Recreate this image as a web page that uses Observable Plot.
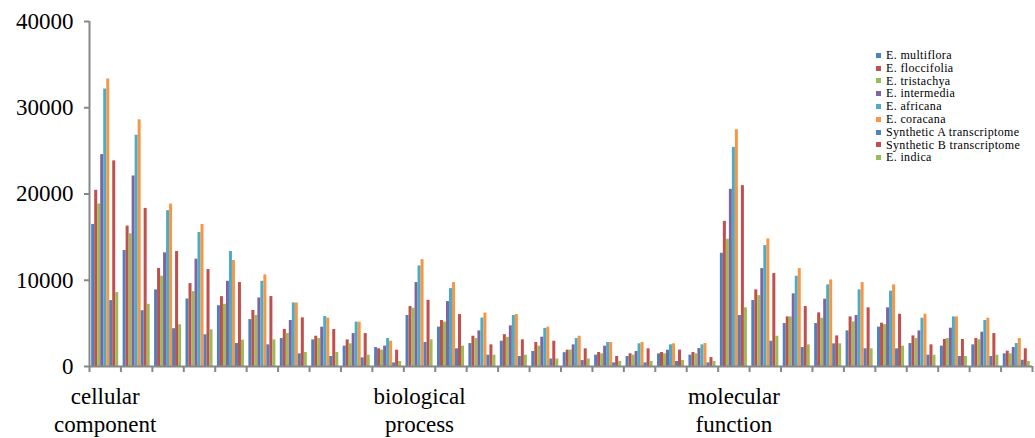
<!DOCTYPE html>
<html><head><meta charset="utf-8">
<script src="https://cdn.jsdelivr.net/npm/d3@7"></script>
<script src="https://cdn.jsdelivr.net/npm/@observablehq/plot@0.6"></script>
<style>
body{margin:0;background:#fff;}
#wrap{position:relative;width:1035px;height:438px;font-family:'Liberation Serif','Times New Roman',serif;}
#legend{position:absolute;left:876px;top:49px;font-family:'Liberation Serif','Times New Roman',serif;font-size:12px;line-height:12.8px;letter-spacing:0.35px;color:#000;}
#legend div{display:flex;align-items:center;white-space:nowrap;}
#legend span.sw{display:inline-block;width:5px;height:5px;margin-right:5px;}
svg text{font-family:'Liberation Serif','Times New Roman',serif;}
</style></head><body><div id="wrap"><div id="legend"></div></div>
<script>
const seriesNames = ["E. multiflora","E. floccifolia","E. tristachya","E. intermedia","E. africana","E. coracana","Synthetic A transcriptome","Synthetic B transcriptome","E. indica"];
const seriesColors = ["#4F81BD","#C0504D","#9BBB59","#8064A2","#4BACC6","#F79646","#4F81BD","#C0504D","#9BBB59"];
const categoryLabels = ["cellular\ncomponent","biological\nprocess","molecular\nfunction"];
const categoryStartGroup = [0,10,20];
const yTicks = [0,10000,20000,30000,40000];

const multiflora = [16470,13450,8880,7830,7050,5440,3240,3090,2360,2200,5910,4560,2660,2930,1740,1600,1310,1160,1470,1310,13130,7650,4980,4980,4130,4560,2660,2360,2510,1470];
const floccifolia = [20430,16280,11360,9610,8100,6490,4290,3510,3090,2050,6950,5330,3510,3690,2780,1890,1620,1470,1620,1620,16830,8880,5750,6220,5750,5020,3550,3130,3240,1780];
const tristachya = [18840,15390,10470,8680,7210,5910,3820,3240,2630,1890,6760,5140,3240,3380,2360,1890,1470,1310,1470,1470,14750,8220,5750,5600,5170,4860,3240,3240,3090,1470];
const intermedia = [24570,22090,13180,12440,9880,7950,5330,4560,3820,2360,9730,7530,4130,4710,3400,2510,2360,1740,1890,2080,20540,11350,8420,7800,5910,6800,4130,4440,3980,2200];
const africana = [32170,26820,18060,15540,13330,9880,7370,5790,5140,3240,11660,9030,5620,5910,4420,3240,2780,2630,2510,2510,25410,14020,10460,9460,8880,8730,5600,5750,5330,2660];
const coracana = [33330,28600,18840,16470,12290,10620,7370,5600,5140,2930,12390,9730,6200,6020,4560,3510,2780,2780,2630,2660,27450,14790,11350,10040,9730,9460,6060,5750,5600,3240];
const synthA = [7640,6470,4380,3680,2670,2510,1470,1160,1000,420,2780,2050,1310,1160,870,690,420,420,580,420,5910,2930,2200,2630,2050,2050,1310,1160,1160,730];
const synthB = [23840,18330,13330,11240,9730,8110,5640,4290,3820,1890,7680,6020,2510,3090,2930,2050,1160,2050,1900,1040,20970,10770,6950,3550,6800,6060,2510,3130,3820,2050];
const indica = [8570,7210,4840,4260,3060,3090,1620,1620,1310,580,3090,2360,1310,1310,870,870,580,580,690,580,6800,3510,2510,2630,2050,2360,1310,1160,1310,580];

const seriesValues = [multiflora,floccifolia,tristachya,intermedia,africana,coracana,synthA,synthB,indica];
const nGroups = multiflora.length;
const data = [];
for (let g = 0; g < nGroups; g++) seriesValues.forEach((vals, s) => data.push({g, s, v: vals[g]}));
const cats = categoryLabels.map((label, i) => ({label, g: categoryStartGroup[i]}));

const inner = 0.86, start = (1 - inner) / 2, bw = inner / seriesNames.length;
const axisGray = "#878787";
const serif = "Liberation Serif, Times New Roman, serif";

const chart = Plot.plot({
  width: 1035, height: 438,
  marginLeft: 89, marginRight: 3, marginTop: 21, marginBottom: 72,
  style: {fontFamily: serif, background: "white", overflow: "visible"},
  x: {domain: [0, nGroups], axis: null},
  y: {domain: [0, 40000], axis: null},
  marks: [
    Plot.rectY(data, {
      x1: d => d.g + start + d.s * bw,
      x2: d => d.g + start + (d.s + 1) * bw,
      y1: 0, y2: "v",
      fill: d => seriesColors[d.s],
      inset: 0
    }),
    Plot.ruleX([0], {stroke: axisGray, strokeWidth: 2}),
    Plot.ruleY([0], {stroke: axisGray, strokeWidth: 2}),
    Plot.axisY({ticks: yTicks, tickFormat: d => String(d), label: null, tickSize: 5, tickPadding: 11, fontSize: 23, fontFamily: serif, stroke: axisGray, strokeWidth: 2, color: "#000", fill: "#000"}),
    Plot.axisX({ticks: d3.range(0, nGroups + 1), tickFormat: () => "", label: null, tickSize: 6, stroke: axisGray, strokeWidth: 2}),
    Plot.text(cats, {x: d => d.g + 0.5, y: 0, text: "label", lineAnchor: "top", dy: 18, fontSize: 23, fontFamily: serif, lineHeight: 1.2, fill: "#000"})
  ]
});
document.getElementById("wrap").prepend(chart);

const legend = document.getElementById("legend");
seriesNames.forEach((name, i) => {
  const row = document.createElement("div");
  const sw = document.createElement("span");
  sw.className = "sw"; sw.style.background = seriesColors[i];
  row.appendChild(sw);
  row.appendChild(document.createTextNode(name));
  legend.appendChild(row);
});
</script></body></html>
